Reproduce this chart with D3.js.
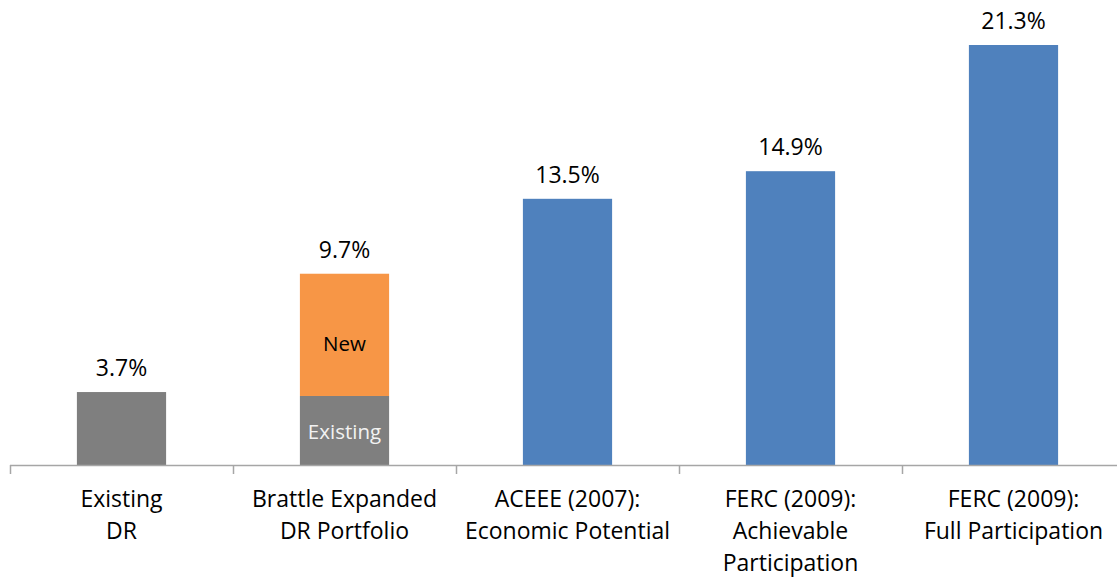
<!DOCTYPE html>
<html>
<head>
<meta charset="utf-8">
<script src="https://cdn.jsdelivr.net/npm/d3@7"></script>
<style>
  body { margin: 0; background: #fff; }
  svg { display: block; font-family: "Open Sans", "Noto Sans", sans-serif; }
</style>
</head>
<body>
<div class="viz"></div>
<script>
const categories = [
  ["Existing", "DR"],
  ["Brattle Expanded", "DR Portfolio"],
  ["ACEEE (2007):", "Economic Potential"],
  ["FERC (2009):", "Achievable", "Participation"],
  ["FERC (2009):", "Full Participation"]
];
const existingPart = [3.7, 3.5, 0, 0, 0];
const newPart = [0, 6.2, 0, 0, 0];
const studyPart = [0, 0, 13.5, 14.9, 21.3];
const totals = [3.7, 9.7, 13.5, 14.9, 21.3];
const segLabels = ["Existing", "New"];

const width = 1117, height = 579;
const x0 = 10, base = 465, step = 223;

const svg = d3.select('.viz').append('svg')
  .attr('width', width).attr('height', height);

const x = d3.scaleBand()
  .domain(d3.range(categories.length))
  .range([x0, x0 + step * 5])
  .paddingInner(0.6).paddingOuter(0.3);

const y = d3.scaleLinear()
  .domain([0, 21.3])
  .range([base, 45]);

const stackData = categories.map((c, i) => ({
  i: i, existing: existingPart[i], fresh: newPart[i], study: studyPart[i]
}));
const stack = d3.stack().keys(['existing', 'fresh', 'study'])(stackData);
const colors = { existing: '#7f7f7f', fresh: '#f79646', study: '#4f81bd' };

svg.selectAll('g.series')
  .data(stack)
  .join('g')
  .attr('class', 'series')
  .attr('fill', d => colors[d.key])
  .selectAll('rect')
  .data(d => d.filter(p => p[1] > p[0]))
  .join('rect')
  .attr('x', d => x(d.data.i))
  .attr('width', x.bandwidth())
  .attr('y', d => y(d[1]))
  .attr('height', d => y(d[0]) - y(d[1]));

// segment labels in the Brattle bar
const bi = 1;
svg.append('text')
  .attr('x', x(bi) + x.bandwidth() / 2)
  .attr('y', (y(0) + y(existingPart[bi])) / 2 + 9)
  .attr('text-anchor', 'middle')
  .attr('font-size', 20.5)
  .attr('fill', '#f2f2f2')
  .text(segLabels[0]);
svg.append('text')
  .attr('x', x(bi) + x.bandwidth() / 2)
  .attr('y', (y(existingPart[bi]) + y(totals[bi])) / 2 + 16)
  .attr('text-anchor', 'middle')
  .attr('font-size', 20.5)
  .attr('fill', '#000')
  .text(segLabels[1]);

// totals
svg.selectAll('text.total')
  .data(totals)
  .join('text')
  .attr('class', 'total')
  .attr('x', (d, i) => x(i) + x.bandwidth() / 2)
  .attr('y', d => y(d) - 16)
  .attr('text-anchor', 'middle')
  .attr('font-size', 23)
  .attr('fill', '#000')
  .text(d => d.toFixed(1) + '%');

// axis
svg.append('line')
  .attr('x1', x0).attr('x2', width)
  .attr('y1', base + 0.5).attr('y2', base + 0.5)
  .attr('stroke', '#a6a6a6').attr('stroke-width', 1.5);
const ticks = d3.range(categories.length + 1).map(i => x0 + i * step);
svg.selectAll('line.tick')
  .data(ticks)
  .join('line')
  .attr('class', 'tick')
  .attr('x1', d => d + 0.5).attr('x2', d => d + 0.5)
  .attr('y1', base).attr('y2', base + 9)
  .attr('stroke', '#a6a6a6').attr('stroke-width', 1.5);

// category labels
const lab = svg.selectAll('text.cat')
  .data(categories)
  .join('text')
  .attr('class', 'cat')
  .attr('text-anchor', 'middle')
  .attr('font-size', 23)
  .attr('fill', '#000');
lab.selectAll('tspan')
  .data((d, i) => d.map(t => ({ t: t, i: i })))
  .join('tspan')
  .attr('x', d => x(d.i) + x.bandwidth() / 2)
  .attr('y', (d, j) => 507 + j * 32)
  .text(d => d.t);
</script>
</body>
</html>
